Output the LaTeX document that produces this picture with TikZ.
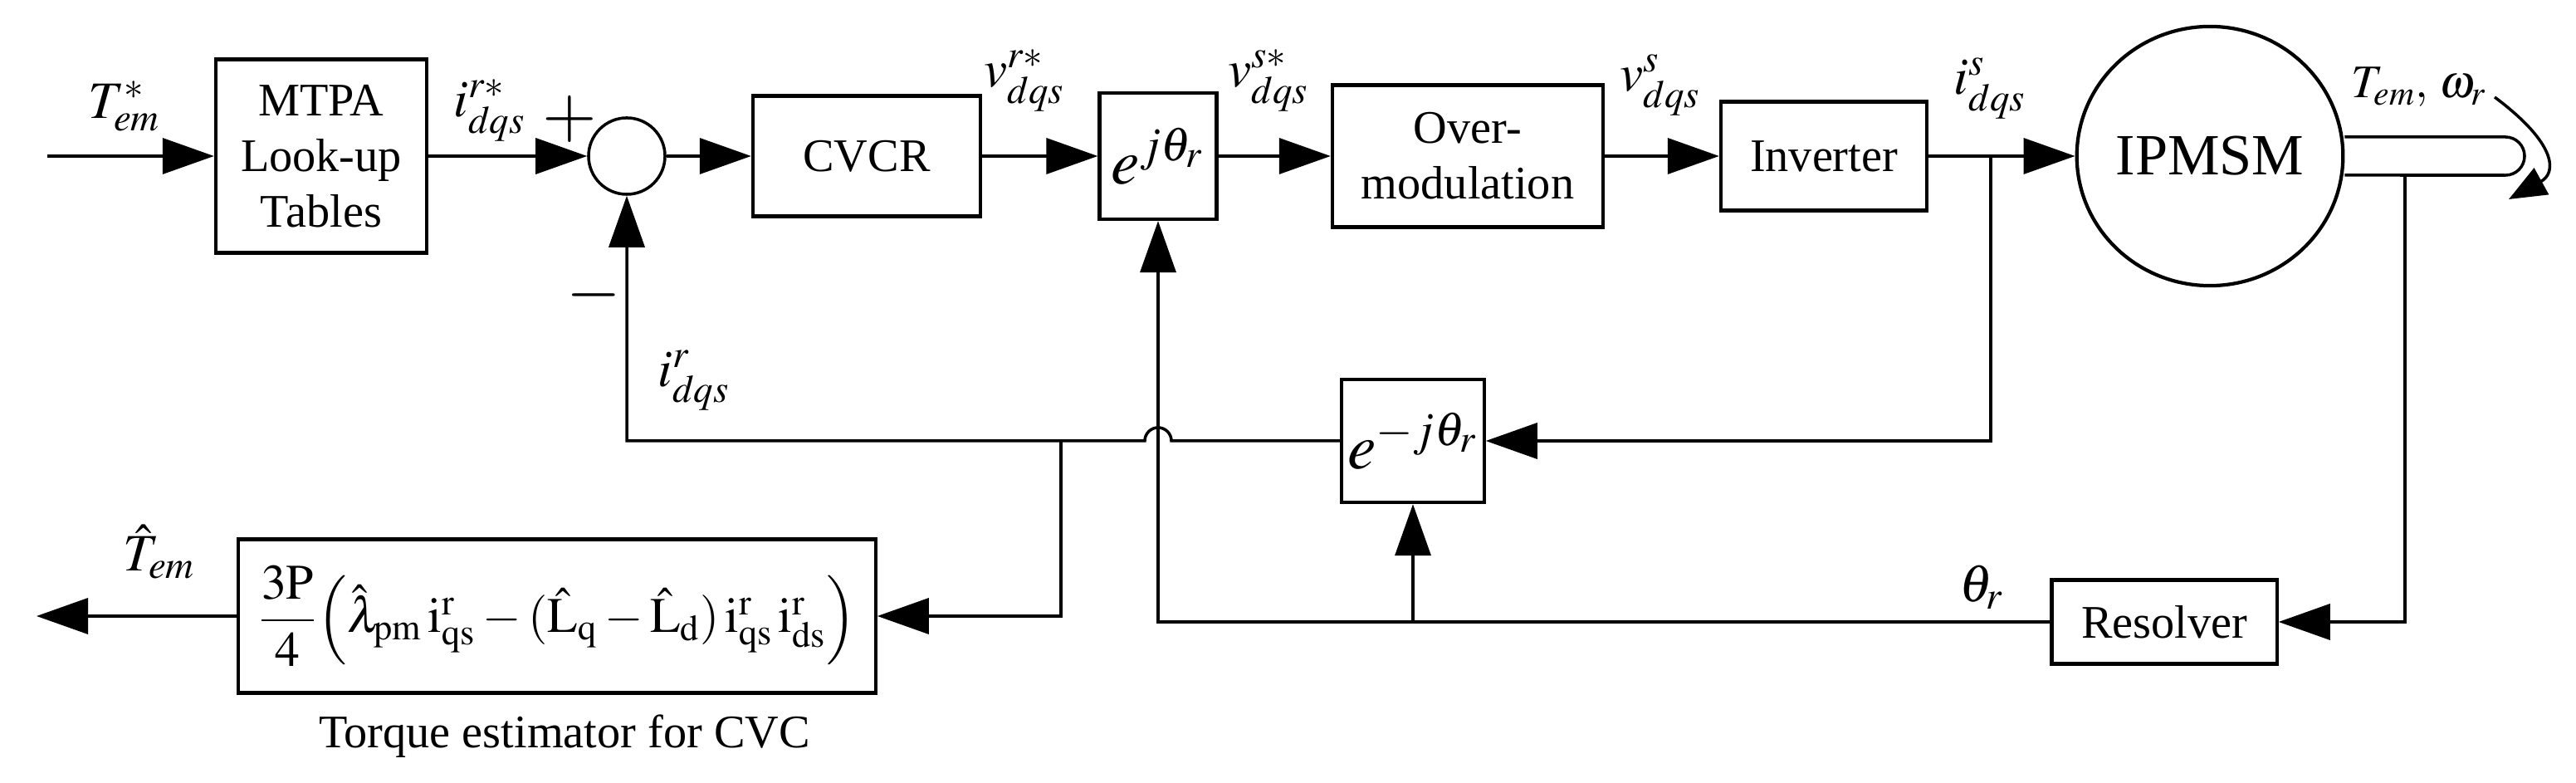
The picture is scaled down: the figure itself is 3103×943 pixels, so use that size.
\documentclass[tikz,border=0pt]{standalone}
\usepackage{amsmath}
\usepackage{mathptmx}
\usepackage{fontspec}
\setmainfont{Liberation Serif}
\usetikzlibrary{arrows.meta,shapes.geometric}

\tikzset{
  block/.style={draw, line width=1.2pt, inner sep=2pt, align=center,
    font=\fontsize{16}{19}\selectfont},
  conn/.style={line width=1pt, -{Triangle[length=0.62cm,width=0.43cm]}},
  wire/.style={line width=1pt},
  lbl/.style={font=\fontsize{18}{20}\selectfont},
}

\begin{document}
\begin{tikzpicture}[x=0.01cm,y=0.01cm]
\useasboundingbox (0,0) rectangle (3103,943);

% forward path
\node[block, minimum width=2.54cm, minimum height=2.33cm] (mtpa) at (387,755) {MTPA\\Look-up\\Tables};
\node[draw, circle, line width=1pt, minimum size=0.92cm, inner sep=0pt] (sum) at (755,755) {};
\node[block, minimum width=2.74cm, minimum height=1.45cm] (cvcr) at (1044,755) {CVCR};
\node[block, minimum width=1.41cm, minimum height=1.52cm, font=\fontsize{22}{24}\selectfont] (rot) at (1395,755) {$e^{j\theta_r}$};
\node[block, minimum width=3.26cm, minimum height=1.71cm] (ovm) at (1768,755) {Over-\\modulation};
\node[block, minimum width=2.48cm, minimum height=1.31cm] (inv) at (2197,755) {Inverter};
\node[draw, ellipse, line width=1.2pt, inner sep=0pt, minimum width=2.94cm, minimum height=3.12cm,
  font=\fontsize{20}{22}\selectfont] (ipmsm) at (2662,755) {IPMSM};

% feedback path
\node[block, minimum width=1.43cm, minimum height=1.48cm, font=\fontsize{22}{24}\selectfont] (invrot) at (1702,412) {$e^{-j\theta_r}$};
\node[block, minimum width=7.67cm, minimum height=1.85cm, font=\fontsize{17}{20}\selectfont] (torque) at (671,201)
  {$\dfrac{3\mathrm{P}}{4}\Big(\hat{\lambda}_{\mathrm{pm}}\,\mathrm{i}^{\mathrm{r}}_{\mathrm{qs}}-(\hat{\mathrm{L}}_{\mathrm{q}}-\hat{\mathrm{L}}_{\mathrm{d}})\,\mathrm{i}^{\mathrm{r}}_{\mathrm{qs}}\,\mathrm{i}^{\mathrm{r}}_{\mathrm{ds}}\Big)$};
\node[block, minimum width=2.71cm, minimum height=1.01cm] (resolver) at (2607,194) {Resolver};

% free ends and branch points
\coordinate (tin) at (57,755);
\coordinate (tout) at (44,201);
\coordinate (isb) at (2398,755);
\coordinate (tb) at (1278,412);
\coordinate (thb) at (1702,194);

% connectors
\draw[conn] (tin) -- (mtpa.west);
\draw[conn] (mtpa.east) -- (sum.west);
\draw[conn] (sum.east) -- (cvcr.west);
\draw[conn] (cvcr.east) -- (rot.west);
\draw[conn] (rot.east) -- (ovm.west);
\draw[conn] (ovm.east) -- (inv.west);
\draw[conn] (inv.east) -- (ipmsm.west);
\draw[conn] (isb) -- (2398,412) -- (invrot.east);
\draw[conn] (invrot.west) -- (1411,412) arc[start angle=0, end angle=180, radius=0.16cm] -- (755,412) -- (sum.south);
\draw[conn] (tb) -- (1278,201) -- (torque.east);
\draw[conn] (torque.west) -- (tout);
\draw[conn] (resolver.west) -- (1395,194) -- (rot.south);
\draw[conn] (thb) -- (invrot.south);

% shaft
\draw[wire] (ipmsm.east |- 0,778) -- (3018,778) arc[start angle=90, end angle=-90, radius=0.23cm] -- (ipmsm.east |- 0,732);
\draw[conn] (2897,732) -- (2897,194) -- (resolver.east);
\draw[line width=1pt, -{Triangle[length=0.45cm,width=0.36cm]}] (3005,826) .. controls (3080,770) and (3080,735) .. (3022,703);

% labels
\node[lbl] (ltstar) at (150,815) {$T^{*}_{em}$};
\node[lbl] (lirs) at (590,810) {$i^{r*}_{dqs}$};
\node[font=\fontsize{24}{26}\selectfont] (lplus) at (686,800) {$+$};
\node[font=\fontsize{24}{26}\selectfont] (lminus) at (715,588) {$-$};
\node[lbl] (lir) at (836,485) {$i^{r}_{dqs}$};
\node[lbl] (lvrs) at (1234,846) {$v^{r*}_{dqs}$};
\node[lbl] (lvss) at (1528,846) {$v^{s*}_{dqs}$};
\node[lbl] (lvs) at (2000,840) {$v^{s}_{dqs}$};
\node[lbl] (lis) at (2397,836) {$i^{s}_{dqs}$};
\node[font=\fontsize{16}{18}\selectfont] (ltw) at (2914,838) {$T_{em},\,\omega_r$};
\node[lbl] (lth) at (2387,236) {$\theta_r$};
\node[lbl] (lthat) at (192,278) {$\hat{T}_{em}$};
\node[font=\fontsize{16}{18}\selectfont] (lcap) at (680,56) {Torque estimator for CVC};
\end{tikzpicture}
\end{document}
